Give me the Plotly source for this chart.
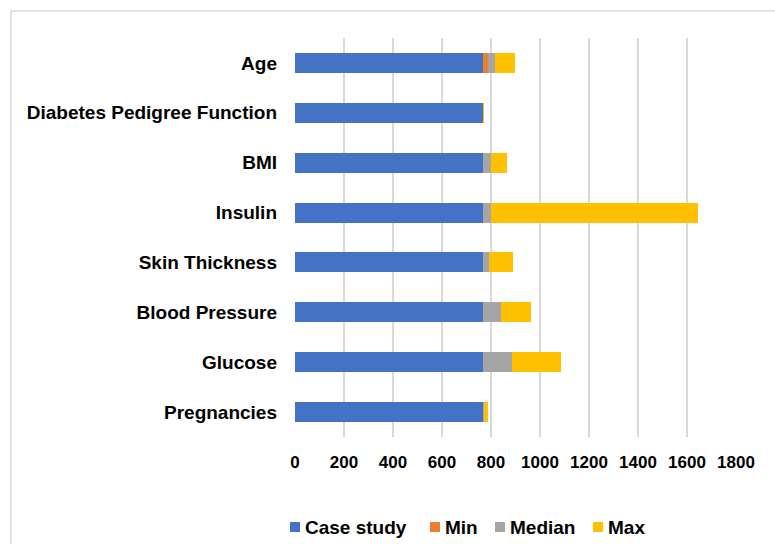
import plotly.graph_objects as go

# Pima diabetes dataset summary, stacked per attribute
categories = ["Pregnancies", "Glucose", "Blood Pressure", "Skin Thickness",
              "Insulin", "BMI", "Diabetes Pedigree Function", "Age"]
case_study = [768, 768, 768, 768, 768, 768, 768, 768]
min_vals = [0, 0, 0, 0, 0, 0, 0.078, 21]
median_vals = [3, 117, 72, 23, 30.5, 32, 0.3725, 29]
max_vals = [17, 199, 122, 99, 846, 67.1, 2.42, 81]
x_ticks = [0, 200, 400, 600, 800, 1000, 1200, 1400, 1600, 1800]

series_names = ["Case study", "Min", "Median", "Max"]
series_values = [case_study, min_vals, median_vals, max_vals]
series_colors = ["#4472C4", "#ED7D31", "#A5A5A5", "#FFC000"]

FONT = "Liberation Sans, Arial, sans-serif"

# plot area in pixels (used to place the legend row in paper units)
L, R, T, B = 295, 39, 38, 107
W, H = 775, 544
PW, PH = W - L - R, H - T - B


def px_x(px):
    return (px - L) / PW


def px_y(py):
    return (H - B - py) / PH


fig = go.Figure()
for name, vals, color in zip(series_names, series_values, series_colors):
    fig.add_trace(go.Bar(
        y=categories, x=vals, name=name, orientation="h",
        marker=dict(color=color, line=dict(width=0)),
        showlegend=False,
    ))

# legend row: coloured squares with bold labels
legend_left = [290, 430, 495, 593]
legend_y = 527
shapes = [
    dict(type="rect", xref="paper", yref="paper",
         x0=-0.644, x1=1.3, y0=-0.4, y1=1.0677,
         line=dict(color="#D9D9D9", width=1.5), fillcolor="rgba(0,0,0,0)",
         layer="below"),
]
annotations = []
for name, color, lx in zip(series_names, series_colors, legend_left):
    shapes.append(dict(
        type="rect", xref="paper", yref="paper",
        x0=px_x(lx), x1=px_x(lx + 10),
        y0=px_y(legend_y + 5), y1=px_y(legend_y - 5),
        line=dict(width=0), fillcolor=color,
    ))
    annotations.append(dict(
        xref="paper", yref="paper",
        x=px_x(lx + 13), y=px_y(legend_y),
        xanchor="left", yanchor="middle",
        text=name, showarrow=False,
        font=dict(family=FONT, size=19, color="#000000", weight="bold"),
    ))

fig.update_layout(
    barmode="stack",
    bargap=0.6,
    width=W, height=H,
    margin=dict(l=L, r=R, t=T, b=B, autoexpand=False),
    paper_bgcolor="white",
    plot_bgcolor="white",
    font=dict(family=FONT, color="#000000"),
    xaxis=dict(
        range=[0, 1800],
        tickvals=x_ticks,
        ticktext=[str(v) for v in x_ticks],
        tickangle=0,
        showgrid=True, gridcolor="#D9D9D9", gridwidth=1.5,
        zeroline=False, showline=False,
        ticks="outside", ticklen=10, tickcolor="rgba(0,0,0,0)",
        tickfont=dict(family=FONT, size=17, color="#000000", weight="bold"),
        automargin=False,
        fixedrange=True,
    ),
    yaxis=dict(
        showgrid=False, zeroline=False, showline=False,
        ticks="", ticklabelstandoff=17,
        tickfont=dict(family=FONT, size=19, color="#000000", weight="bold"),
        range=[-0.5, 7.5],
        automargin=False,
        fixedrange=True,
    ),
    shapes=shapes,
    annotations=annotations,
    showlegend=False,
)

fig.write_html("out.html")
